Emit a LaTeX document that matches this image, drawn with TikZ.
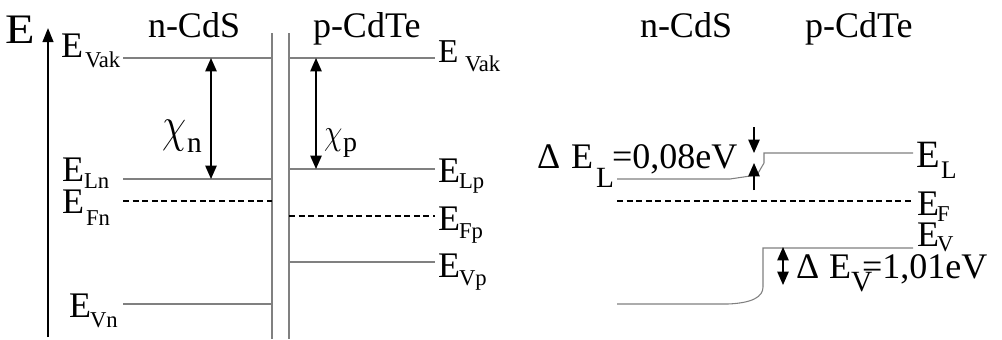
\documentclass[tikz,border=0pt]{standalone}
\usepackage{fontspec}
\setmainfont{Liberation Serif}
\usetikzlibrary{arrows.meta}
\newcommand{\fsz}[1]{\fontsize{#1}{#1}\selectfont}
\begin{document}
\begin{tikzpicture}[x=0.75pt,y=-0.75pt,
  lab/.style={anchor=base west, inner sep=0pt, outer sep=0pt, font=\fsz{27pt}},
  sublab/.style={anchor=base west, inner sep=0pt, outer sep=0pt, font=\fsz{17pt}},
  band/.style={draw={rgb,255:red,128;green,128;blue,128}, line width=0.8pt},
  fermi/.style={draw=black, line width=1.1pt, dash pattern=on 4.5pt off 2.7pt},
  dim/.style={draw=black, line width=1.1pt},
]
\useasboundingbox (0,0) rectangle (1002,339);

% energy axis
\node[lab, font=\fsz{31.5pt}] (Eaxis) at (5,43) {\scalebox{1.15}[1]{E}};
\coordinate (axbot) at (48,337);
\coordinate (axtop) at (48,28);
\draw[line width=1.5pt, -{Triangle[length=10.5pt,width=8pt]}] (axbot) -- (axtop);

% headings
\node[lab] (ncds1) at (148,37) {n-CdS};
\node[lab] (pcdte1) at (313,37) {p-CdTe};
\node[lab] (ncds2) at (640,37) {n-CdS};
\node[lab] (pcdte2) at (805,37) {p-CdTe};

% interface lines
\draw[band] (272,33) -- (272,339);
\draw[band] (289,33) -- (289,339);

% left (n-CdS) levels
\draw[band] (123,58) -- (272,58);
\draw[band] (123,179) -- (272,179);
\draw[fermi] (123,201) -- (272,201);
\draw[band] (123,304) -- (272,304);

\node[lab] (EVakn) at (61,57) {E};
\node[sublab] (EVakns) at (85,67) {Vak};
\node[lab] (ELn) at (62,181) {E};
\node[sublab] (ELns) at (84,188) {Ln};
\node[lab] (EFn) at (62,213) {E};
\node[sublab] (EFns) at (86,225) {Fn};
\node[lab] (EVn) at (69,317) {E};
\node[sublab] (EVns) at (90,327) {Vn};

% chi_n
\coordinate (chint) at (211,58);
\coordinate (chinb) at (211,179);
\draw[dim, {Triangle[length=10pt,width=8.5pt]}-{Triangle[length=10pt,width=8.5pt]}] (chint) -- (chinb);
\node[lab] (chin) at (162,141) {\scalebox{1.18}[1.5]{$\chi$}};
\node[sublab, font=\fsz{22pt}] (chins) at (187,152) {n};

% right (p-CdTe) levels
\draw[band] (289,58) -- (435,58);
\draw[band] (289,169) -- (435,169);
\draw[fermi] (289,216) -- (435,216);
\draw[band] (289,262) -- (435,262);

\node[lab, font=\fsz{25pt}] (EVakp) at (438,62) {E};
\node[sublab] (EVakps) at (465,71) {Vak};
\node[lab] (ELp) at (438,182) {E};
\node[sublab] (ELps) at (459,188) {Lp};
\node[lab] (EFp) at (438,230) {E};
\node[sublab] (EFps) at (459,238) {Fp};
\node[lab] (EVp) at (438,277) {E};
\node[sublab] (EVps) at (459,285) {Vp};

% chi_p
\coordinate (chipt) at (316,58);
\coordinate (chipb) at (316,169);
\draw[dim, {Triangle[length=10pt,width=8.5pt]}-{Triangle[length=10pt,width=8.5pt]}] (chipt) -- (chipb);
\node[lab] (chip) at (324,144) {\scalebox{0.9}[1.1]{$\chi$}};
\node[sublab, font=\fsz{21pt}] (chips) at (343,151) {p};

% heterojunction band diagram (right)
\draw[band] (617,179) -- (730,179) -- (757,175) -- (764,163) -- (764,153) -- (913,153);
\draw[fermi] (617,201) -- (913,201);
\draw[band] (617,304) -- (728,304) .. controls (752,303) and (763,297) .. (763,287) -- (763,248) -- (913,248);

\node[lab, font=\fsz{29pt}] (EL) at (916,167) {E};
\node[sublab, font=\fsz{19pt}] (ELs) at (941,178) {L};
\node[lab] (EF) at (917,215) {E};
\node[sublab] (EFs) at (937,221) {F};
\node[lab] (EV) at (917,246) {E};
\node[sublab] (EVs) at (937,251) {V};

% Delta E_L
\coordinate (dl1) at (754,127);
\coordinate (dl1t) at (754,153);
\coordinate (dl2) at (754,190);
\coordinate (dl2t) at (754,163);
\draw[dim, -{Triangle[length=10pt,width=8.5pt]}] (dl1) -- (dl1t);
\draw[dim, -{Triangle[length=10pt,width=8.5pt]}] (dl2) -- (dl2t);
\node[lab] (dELd) at (537,168) {Δ};
\node[lab] (dELE) at (571,168) {E};
\node[sublab, font=\fsz{22pt}] (dELs) at (596,187) {L};
\node[lab] (dELv) at (612,168) {=0,08eV};

% Delta E_V
\coordinate (dvt) at (783,247);
\coordinate (dvb) at (783,285);
\draw[dim, {Triangle[length=10pt,width=8.5pt]}-{Triangle[length=10pt,width=8.5pt]}] (dvt) -- (dvb);
\node[lab] (dEVd) at (796,278) {Δ};
\node[lab] (dEVE) at (829,278) {E};
\node[sublab, font=\fsz{22pt}] (dEVs) at (851,291) {V};
\node[lab] (dEVv) at (862,278) {=1,01eV};
\end{tikzpicture}
\end{document}
